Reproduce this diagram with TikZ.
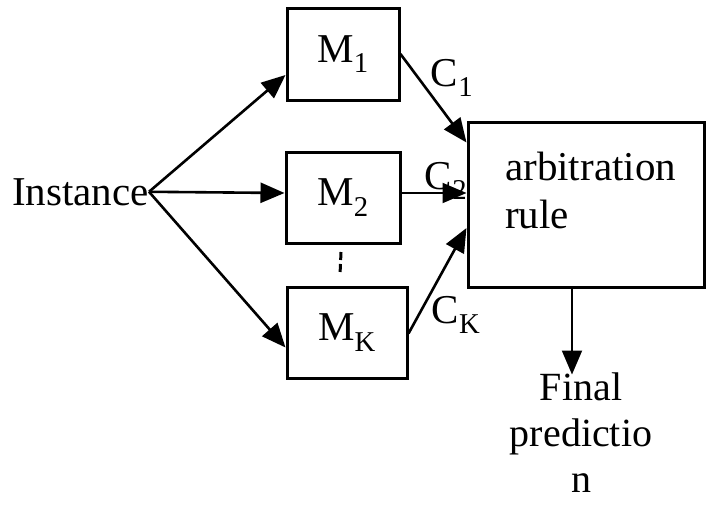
\documentclass[tikz,border=0pt]{standalone}
\usepackage{fontspec}
\setmainfont{Liberation Serif}
\usetikzlibrary{arrows.meta}
\begin{document}
\begin{tikzpicture}[x=1pt,y=-1pt,
  box/.style={draw,line width=3pt,inner sep=0pt},
  conn/.style={line width=2.6pt,-{Triangle[length=24pt,width=20pt]}},
  txt/.style={font=\fontsize{41}{48}\selectfont,inner sep=0pt}]
\useasboundingbox (0,0) rectangle (707,504);
\node[box,minimum width=112pt,minimum height=92pt,txt] (m1) at (343,54) {M\textsubscript{1}};
\node[box,minimum width=114pt,minimum height=91pt,txt] (m2) at (343,197.5) {M\textsubscript{2}};
\node[box,minimum width=120pt,minimum height=91pt,txt] (mk) at (347,332.5) {M\textsubscript{K}};
\node[box,minimum width=236pt,minimum height=165pt] (arb) at (586,204.5) {};
\node[txt,anchor=base west,align=left] (arbtxt) at (505,228) {arbitration\\rule};
\node[txt,anchor=base east] (inst) at (149,205) {Instance};
\node[txt] (c1) at (452,78) {C\textsubscript{1}};
\node[txt] (c2) at (446,181) {C\textsubscript{2}};
\node[txt] (ck) at (456,315) {C\textsubscript{K}};
\node[txt,anchor=base,align=center,font=\fontsize{40}{46}\selectfont] (final) at (581,492) {Final\\predictio\\n};
\draw[conn] (inst.east) -- ([yshift=-21pt]m1.west);
\draw[conn] (inst.east) -- ([yshift=4.5pt]m2.west);
\draw[conn] (inst.east) -- ([yshift=-15pt]mk.west);
\draw[conn] (m1.east) -- ([yshift=62pt]arb.west);
\draw[conn,line width=2pt] ([yshift=4.5pt]m2.east) -- ([yshift=11.5pt]arb.west);
\draw[conn] ([yshift=-1pt]mk.east) -- ([yshift=-23.5pt]arb.west);
\draw[conn,line width=2pt] ([xshift=-14pt]arb.south) -- ([xshift=-14pt,yshift=-86pt]arb.south);
\draw[line width=3pt,dash pattern=on 8pt off 4pt] (341,252) -- (340,275);
\end{tikzpicture}
\end{document}
